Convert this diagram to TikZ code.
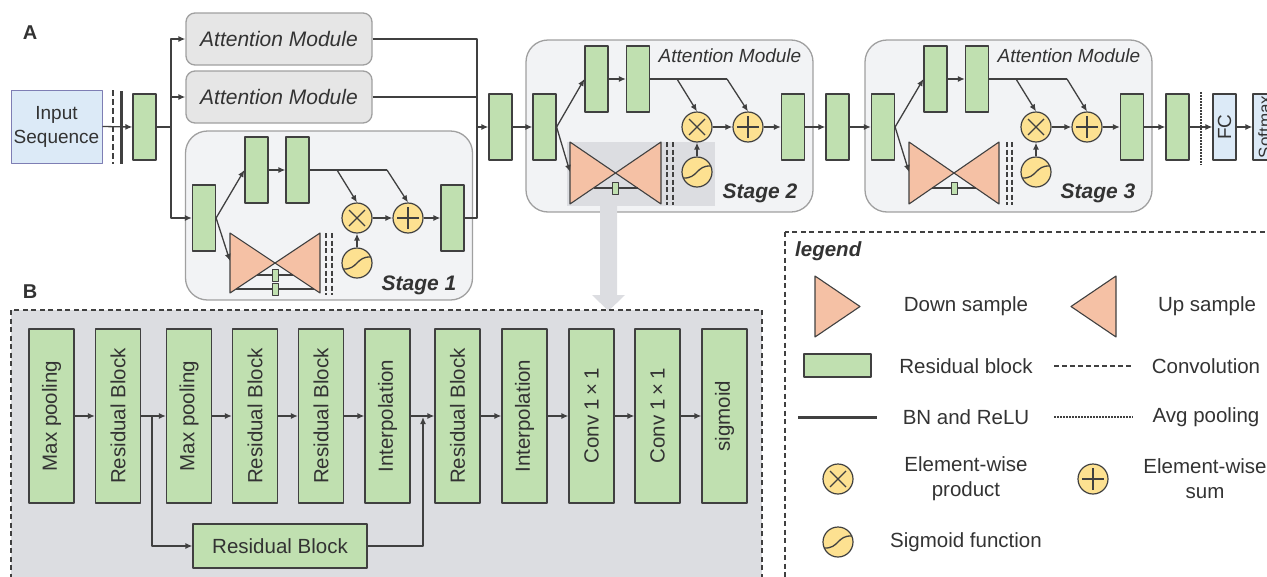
\documentclass[tikz,border=0pt]{standalone}
\usepackage{fontspec}
\setmainfont{Liberation Sans}
\usetikzlibrary{arrows.meta,calc}
\definecolor{grn}{HTML}{C0E0B0}
\definecolor{sal}{HTML}{F5C1A5}
\definecolor{yel}{HTML}{FDE191}
\definecolor{lblue}{HTML}{DCEAF7}
\definecolor{inb}{HTML}{7E7EB4}
\definecolor{txt}{HTML}{333333}
\definecolor{edge}{HTML}{404040}
\definecolor{stg}{HTML}{F2F3F5}
\definecolor{stgb}{HTML}{A0A0A0}
\definecolor{amf}{HTML}{E6E6E6}
\definecolor{pb}{HTML}{DCDDE1}
\newcommand\fsA{\fontsize{21}{25}\selectfont}
\newcommand\fsB{\fontsize{20.5}{25}\selectfont}
\newcommand\fsC{\fontsize{19}{24}\selectfont}
\newcommand\opMul[1]{\draw[sym] ($(#1)+(-8,-8)$) -- ($(#1)+(8,8)$) ($(#1)+(-8,8)$) -- ($(#1)+(8,-8)$);}
\newcommand\opAdd[1]{\draw[sym] ($(#1)+(-11,0)$) -- ($(#1)+(11,0)$) ($(#1)+(0,-11)$) -- ($(#1)+(0,11)$);}
\newcommand\opSig[1]{\draw[sym] ($(#1)+(-14,6)$) .. controls ($(#1)+(1,7)$) and ($(#1)+(-1,-7)$) .. ($(#1)+(14,-6)$);}
\begin{document}
\begin{tikzpicture}[x=1pt,y=-1pt,line join=round,
  rb/.style={draw=edge,fill=grn,line width=1.2pt,minimum width=23pt,minimum height=66pt,inner sep=0pt},
  brb/.style={draw=edge,fill=grn,line width=1.2pt,minimum width=174pt,minimum height=45pt,inner sep=0pt,rotate=90,font=\fsB,text=txt},
  opc/.style={circle,draw=edge,fill=yel,line width=1.2pt,minimum size=30pt,inner sep=0pt},
  stagebox/.style={draw=stgb,fill=stg,line width=1.3pt,rounded corners=22pt,inner sep=0pt},
  ambox/.style={draw=stgb,fill=amf,line width=1.3pt,rounded corners=9pt,inner sep=0pt,minimum width=186pt,minimum height=52pt,font=\fsA\itshape,text=txt},
  arr/.style={draw=edge,line width=1.3pt,-{Latex[length=7pt,width=6pt]}},
  ln/.style={draw=edge,line width=1.3pt},
  sym/.style={draw=edge,line width=1.3pt},
  tri/.style={draw=edge,fill=sal,line width=1.1pt},
  cdash/.style={draw=edge,line width=2.2pt,dash pattern=on 5pt off 2.5pt},
  lt/.style={font=\fsB,text=txt,align=center,inner sep=0pt},
  stt/.style={font=\fsA\bfseries\itshape,text=txt,inner sep=0pt},
  amt/.style={font=\fsC\itshape,text=txt,inner sep=0pt},
  hgbar/.style={draw=edge,fill=grn,line width=1pt}]
\useasboundingbox (0,0) rectangle (1267,576);
\clip (0,0) rectangle (1267,576);

% ---------------- Panel A ----------------
\node[font=\fontsize{20}{24}\selectfont\bfseries,text=txt] (labA) at (30,33) {A};
\node[draw=inb,fill=lblue,line width=1pt,minimum width=91pt,minimum height=73pt,inner sep=0pt,align=center,font=\fsC,text=txt] (inp) at (56.5,126.5) {Input\\Sequence};
\draw[draw=edge,line width=2pt,dash pattern=on 6pt off 3pt] (113,90) -- (113,164);
\draw[draw=edge,line width=3pt] (121,91) -- (121,164);
\node[rb] (r0) at (144.5,127) {};
\draw[arr] (inp.east) -- (r0.west);

\node[ambox] (am1) at (279,39) {Attention Module};
\node[ambox] (am2) at (279,97) {Attention Module};

% stage 1
\node[stagebox,minimum width=287pt,minimum height=169pt] (st1) at (329,215.5) {};
\node[rb] (s1a) at (204,218) {};
\node[rb] (s1b) at (256.5,170) {};
\node[rb] (s1c) at (297.5,170) {};
\node[opc] (m1) at (357,218) {};
\node[opc] (p1) at (408,218) {};
\node[opc] (g1) at (357,263) {};
\node[rb] (s1d) at (452.5,218) {};
\opMul{m1} \opAdd{p1} \opSig{g1}
\draw[edge,line width=1.1pt] (257,275) -- (293,275) (236,289) -- (314,289);
\draw[tri] (230,233) -- (275,263) -- (230,293) -- cycle;
\draw[tri] (320,233) -- (275,263) -- (320,293) -- cycle;
\draw[edge,line width=1.1pt] (257,275) -- (293,275) (236,289) -- (314,289);
\draw[hgbar] (272,269) rectangle (278,281);
\draw[hgbar] (272,283) rectangle (278,295);
\draw[cdash] (326,233) -- (326,295);
\draw[cdash] (332,233) -- (332,295);
\coordinate (h1in) at (230,261);
\coordinate (k1a) at (337,170);
\coordinate (k1b) at (387,170);
\draw[arr] (s1a.east) -- (s1b.west);
\draw[arr] (s1a.east) -- (h1in);
\draw[arr] (s1b.east) -- (s1c.west);
\draw[ln] (s1c.east) -- (k1b);
\draw[arr] (k1a) -- (m1.north);
\draw[arr] (k1b) -- (p1.north);
\draw[arr] (g1) -- (m1);
\draw[arr] (m1) -- (p1);
\draw[arr] (p1) -- (s1d);
\node[stt] (st1t) at (419,285) {Stage 1};

% branches
\coordinate (j0) at (171,127);
\draw[ln] (r0.east) -- (j0);
\draw[arr] (j0) |- (am1.west);
\draw[arr] (j0) |- (am2.west);
\draw[arr] (j0) |- (s1a.west);
\coordinate (jm) at (477,127);
\node[rb] (r1) at (500.5,127) {};
\draw[ln] (am1.east) -| (jm);
\draw[ln] (am2.east) -| (jm);
\draw[ln] (s1d.east) -| (jm);
\draw[arr] (jm) -- (r1.west);

% stage 2
\node[stagebox,minimum width=287pt,minimum height=172pt] (st2) at (669.5,126) {};
\fill[pb] (567,142) rectangle (715,206);
\node[rb] (s2a) at (544.5,127) {};
\node[rb] (s2b) at (596.5,79) {};
\node[rb] (s2c) at (638,79) {};
\node[opc] (m2) at (697,127) {};
\node[opc] (p2) at (748,127) {};
\node[opc] (g2) at (697,172) {};
\node[rb] (s2d) at (793,127) {};
\opMul{m2} \opAdd{p2} \opSig{g2}
\draw[tri] (570,142) -- (615.5,173) -- (570,204) -- cycle;
\draw[tri] (661,142) -- (615.5,173) -- (661,204) -- cycle;
\draw[edge,line width=1.1pt] (593.5,188) -- (637.5,188);
\draw[hgbar] (612,182) rectangle (618,194);
\draw[cdash] (667,142) -- (667,205);
\draw[cdash] (673,142) -- (673,205);
\coordinate (h2in) at (570,172);
\coordinate (k2a) at (677,79);
\coordinate (k2b) at (727,79);
\draw[arr] (r1.east) -- (s2a.west);
\draw[arr] (s2a.east) -- (s2b.west);
\draw[arr] (s2a.east) -- (h2in);
\draw[arr] (s2b.east) -- (s2c.west);
\draw[ln] (s2c.east) -- (k2b);
\draw[arr] (k2a) -- (m2.north);
\draw[arr] (k2b) -- (p2.north);
\draw[arr] (g2) -- (m2);
\draw[arr] (m2) -- (p2);
\draw[arr] (p2) -- (s2d);
\node[amt] (am2t) at (730,56) {Attention Module};
\node[stt] (st2t) at (760,193) {Stage 2};
\node[rb] (r2) at (837.5,127) {};
\draw[arr] (s2d.east) -- (r2.west);

% stage 3
\node[stagebox,minimum width=287pt,minimum height=172pt] (st3) at (1008.5,126) {};
\node[rb] (s3a) at (883,127) {};
\node[rb] (s3b) at (935.5,79) {};
\node[rb] (s3c) at (977,79) {};
\node[opc] (m3) at (1036,127) {};
\node[opc] (p3) at (1087,127) {};
\node[opc] (g3) at (1036,172) {};
\node[rb] (s3d) at (1132,127) {};
\opMul{m3} \opAdd{p3} \opSig{g3}
\draw[tri] (909,142) -- (954,173) -- (909,204) -- cycle;
\draw[tri] (999,142) -- (954,173) -- (999,204) -- cycle;
\draw[edge,line width=1.1pt] (932,188) -- (976,188);
\draw[hgbar] (951,182) rectangle (957,194);
\draw[cdash] (1007,142) -- (1007,205);
\draw[cdash] (1012,142) -- (1012,205);
\coordinate (h3in) at (909,172);
\coordinate (k3a) at (1016,79);
\coordinate (k3b) at (1067,79);
\draw[arr] (r2.east) -- (s3a.west);
\draw[arr] (s3a.east) -- (s3b.west);
\draw[arr] (s3a.east) -- (h3in);
\draw[arr] (s3b.east) -- (s3c.west);
\draw[ln] (s3c.east) -- (k3b);
\draw[arr] (k3a) -- (m3.north);
\draw[arr] (k3b) -- (p3.north);
\draw[arr] (g3) -- (m3);
\draw[arr] (m3) -- (p3);
\draw[arr] (p3) -- (s3d);
\node[amt] (am3t) at (1069,56) {Attention Module};
\node[stt] (st3t) at (1098,193) {Stage 3};

% output
\node[rb] (r3) at (1177.5,127) {};
\node[draw=edge,fill=lblue,line width=1.2pt,minimum width=66pt,minimum height=23pt,inner sep=0pt,rotate=90,font=\fsC,text=txt] (fc) at (1224.5,127) {FC};
\node[draw=edge,fill=lblue,line width=1.2pt,minimum width=66pt,minimum height=23pt,inner sep=0pt,rotate=90,font=\fontsize{17}{20}\selectfont,text=txt] (sm) at (1264.5,127) {Softmax};
\draw[arr] (s3d.east) -- (r3.west);
\draw[arr] (r3.east) -- (fc.north);
\draw[arr] (fc.south) -- (sm.north);
\draw[draw=edge,line width=2pt,dash pattern=on 1.5pt off 1.5pt] (1201,92) -- (1201,165);

% big grey arrow
\fill[pb] (600,205) -- (617,205) -- (617,295) -- (625,295) -- (608.5,311) -- (592,295) -- (600,295) -- cycle;

% ---------------- Panel B ----------------
\node[font=\fontsize{20}{24}\selectfont\bfseries,text=txt] (labB) at (30,292) {B};
\draw[fill=pb,draw=edge,line width=1.1pt,dash pattern=on 5pt off 3.5pt] (11,310) rectangle (762,600);
\node[brb] (b1) at (51.5,416) {Max pooling};
\node[brb] (b2) at (118,416) {Residual Block};
\node[brb] (b3) at (189,416) {Max pooling};
\node[brb] (b4) at (255,416) {Residual Block};
\node[brb] (b5) at (321,416) {Residual Block};
\node[brb] (b6) at (387.5,416) {Interpolation};
\node[brb] (b7) at (457.5,416) {Residual Block};
\node[brb] (b8) at (524.5,416) {Interpolation};
\node[brb] (b9) at (591.5,416) {Conv 1\,×\,1};
\node[brb] (b10) at (657.5,416) {Conv 1\,×\,1};
\node[brb] (b11) at (724.5,416) {sigmoid};
\node[draw=edge,fill=grn,line width=1.2pt,minimum width=174pt,minimum height=44pt,inner sep=0pt,font=\fsB,text=txt] (bR) at (280,546) {Residual Block};
\draw[arr] (b1.south) -- (b2.north);
\draw[arr] (b2.south) -- (b3.north);
\draw[arr] (b3.south) -- (b4.north);
\draw[arr] (b4.south) -- (b5.north);
\draw[arr] (b5.south) -- (b6.north);
\draw[arr] (b6.south) -- (b7.north);
\draw[arr] (b7.south) -- (b8.north);
\draw[arr] (b8.south) -- (b9.north);
\draw[arr] (b9.south) -- (b10.north);
\draw[arr] (b10.south) -- (b11.north);
\coordinate (bj1) at (152,416);
\coordinate (bj2) at (423,417);
\draw[arr] (bj1) |- (bR.west);
\draw[arr] (bR.east) -| (bj2);

% ---------------- Legend ----------------
\draw[draw=edge,line width=1.1pt,dash pattern=on 5pt off 3.5pt] (785,232) rectangle (1290,600);
\node[font=\fsB\bfseries\itshape,text=txt,anchor=west,inner sep=0pt] (lgt) at (795,251) {legend};
\draw[tri] (815,276) -- (860,306.5) -- (815,337) -- cycle;
\draw[tri] (1116,276) -- (1071,306.5) -- (1116,337) -- cycle;
\node[lt] (ldown) at (966,306) {Down sample};
\node[lt] (lup) at (1207,306) {Up sample};
\node[draw=edge,fill=grn,line width=1.2pt,minimum width=67pt,minimum height=23pt,inner sep=0pt] (lrb) at (837.5,365.5) {};
\node[lt] (lrbt) at (966,366) {Residual block};
\draw[draw=edge,line width=2pt,dash pattern=on 5pt off 3pt] (1054,366) -- (1133,366);
\node[lt] (lconv) at (1206,366) {Convolution};
\draw[draw=edge,line width=3pt] (798,417) -- (877,417);
\node[lt] (lbn) at (966,417) {BN and ReLU};
\draw[draw=edge,line width=2pt,dash pattern=on 1.5pt off 1.5pt] (1054,417) -- (1133,417);
\node[lt] (lavg) at (1206,417) {Avg pooling};
\node[opc] (lm) at (838,479) {};
\node[opc] (lp) at (1093,479) {};
\node[opc] (lg) at (838,542) {};
\opMul{lm} \opAdd{lp} \opSig{lg}
\node[lt] (lmt) at (966,479) {Element-wise\\product};
\node[lt] (lpt) at (1205,479) {Element-wise\\sum};
\node[lt] (lgt2) at (966,542) {Sigmoid function};
\end{tikzpicture}
\end{document}
